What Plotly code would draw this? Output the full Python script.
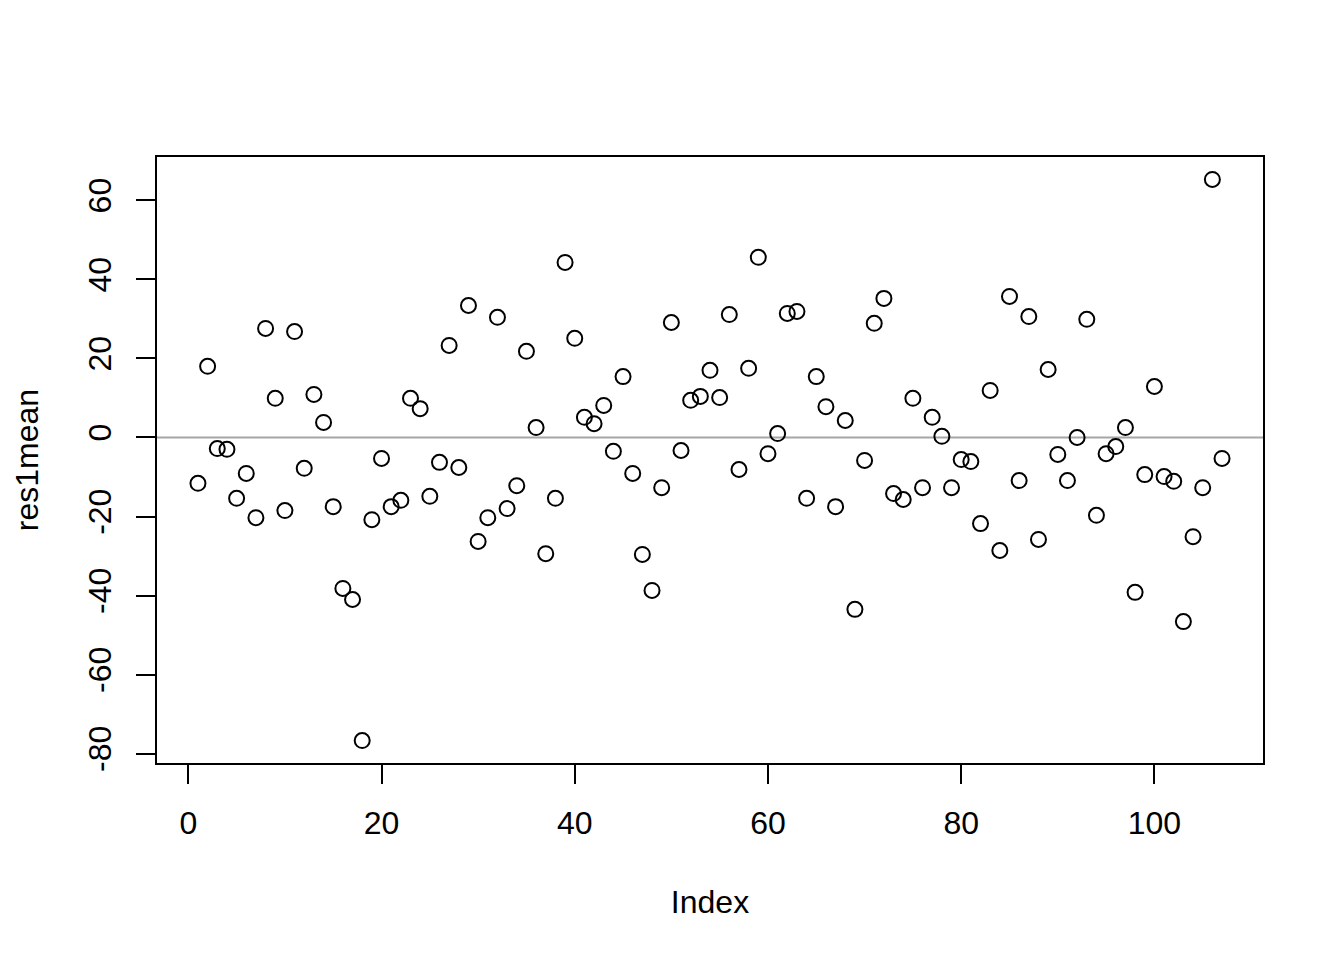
import plotly.graph_objects as go

index = list(range(1, 108))
res1mean = [
    -11.6, 18.0, -2.8, -3.0, -15.4, -9.1, -20.3, 27.6, 9.9, -18.5,
    26.8, -7.8, 10.9, 3.8, -17.5, -38.2, -41.0, -76.7, -20.8, -5.3,
    -17.5, -15.9, 9.9, 7.3, -14.9, -6.3, 23.3, -7.6, 33.4, -26.3,
    -20.3, 30.4, -18.0, -12.2, 21.8, 2.5, -29.4, -15.4, 44.3, 25.1,
    5.1, 3.5, 8.1, -3.5, 15.4, -9.1, -29.6, -38.7, -12.7, 29.1,
    -3.3, 9.4, 10.4, 17.0, 10.1, 31.1, -8.1, 17.5, 45.6, -4.1,
    1.0, 31.4, 31.9, -15.4, 15.4, 7.8, -17.5, 4.3, -43.5, -5.8,
    28.9, 35.2, -14.2, -15.7, 9.9, -12.7, 5.1, 0.3, -12.7, -5.6,
    -6.1, -21.8, 11.9, -28.6, 35.7, -10.9, 30.6, -25.8, 17.2, -4.3,
    -10.9, 0.0, 29.9, -19.7, -4.1, -2.3, 2.5, -39.2, -9.4, 12.9,
    -9.9, -11.1, -46.6, -25.1, -12.7, 65.3, -5.3,
]

x_ticks = [0, 20, 40, 60, 80, 100]
x_ticktext = ["0", "20", "40", "60", "80", "100"]
y_ticks = [-80, -60, -40, -20, 0, 20, 40, 60]
y_ticktext = ["-80", "-60", "-40", "-20", "0", "20", "40", "60"]

FONT = "Liberation Sans, Arial, sans-serif"

fig = go.Figure()
fig.add_trace(go.Scatter(
    x=index, y=res1mean, mode="markers",
    marker=dict(symbol="circle-open", size=15, color="black",
                line=dict(width=2, color="black")),
    showlegend=False,
))

fig.add_hline(y=0, line=dict(color="#a6a6a6", width=2), layer="below")

xmin, xmax = min(index), max(index)
ymin, ymax = min(res1mean), max(res1mean)
xpad = (xmax - xmin) * 0.04
ypad = (ymax - ymin) * 0.04

fig.update_layout(
    width=1336, height=952, autosize=False,
    margin=dict(l=149, r=81, t=149, b=197, pad=0),
    plot_bgcolor="white", paper_bgcolor="white",
    font=dict(family=FONT, size=32, color="black"),
    xaxis=dict(
        range=[xmin - xpad, xmax + xpad],
        tickvals=x_ticks, ticktext=x_ticktext,
        ticks="outside", ticklen=19, tickwidth=2, tickcolor="black",
        showline=True, mirror=True, linecolor="black", linewidth=2,
        showgrid=False, zeroline=False,
        ticklabelstandoff=12,
        title=dict(text="Index", font=dict(size=32), standoff=50),
    ),
    yaxis=dict(
        range=[ymin - ypad, ymax + ypad],
        tickvals=y_ticks, ticktext=y_ticktext,
        ticks="outside", ticklen=19, tickwidth=2, tickcolor="black",
        tickangle=-90,
        showline=True, mirror=True, linecolor="black", linewidth=2,
        showgrid=False, zeroline=False,
        ticklabelstandoff=12,
        title=dict(text="res1mean", font=dict(size=32), standoff=34),
    ),
)

fig.write_html("out.html")
